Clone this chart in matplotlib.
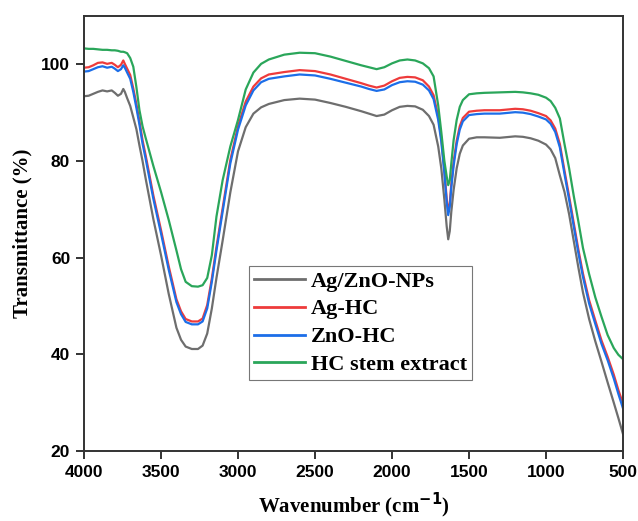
import matplotlib
matplotlib.use("Agg")
import matplotlib.pyplot as plt

# wavenumber grid (cm-1) shared by all four spectra
wavenumber = [4000, 3970, 3940, 3910, 3880, 3850, 3820, 3800, 3780, 3760, 3745, 3735, 3720,
              3700, 3680, 3660, 3640, 3620, 3600, 3550, 3500, 3450, 3400, 3370, 3340, 3300,
              3260, 3230, 3200, 3170, 3140, 3100, 3050, 3000, 2950, 2900, 2850, 2800, 2700,
              2600, 2500, 2400, 2300, 2200, 2150, 2100, 2050, 2000, 1950, 1900, 1850, 1800,
              1760, 1730, 1700, 1680, 1660, 1645, 1635, 1625, 1615, 1600, 1580, 1560, 1540,
              1500, 1450, 1400, 1300, 1200, 1150, 1100, 1050, 1000, 970, 940, 910, 880, 850,
              820, 790, 760, 720, 680, 640, 600, 560, 530, 500]

# transmittance (%)
ag_zno_nps = [93.4, 93.5, 93.9, 94.3, 94.6, 94.4, 94.6, 94.1, 93.5, 93.9, 94.9, 94.3, 93.0,
              91.4, 89.0, 86.6, 83.2, 80.0, 76.4, 68.0, 60.5, 52.5, 45.5, 43.0, 41.6, 41.1,
              41.1, 41.8, 44.3, 49.5, 55.8, 63.5, 73.5, 82.0, 87.0, 89.8, 91.1, 91.8, 92.6,
              92.9, 92.7, 92.0, 91.2, 90.3, 89.8, 89.3, 89.6, 90.5, 91.2, 91.4, 91.3, 90.6,
              89.3, 87.5, 83.0, 78.5, 72.0, 66.5, 63.8, 65.5, 69.5, 74.0, 78.5, 81.5, 83.2,
              84.6, 84.9, 84.9, 84.8, 85.1, 85.0, 84.7, 84.2, 83.4, 82.4, 80.6, 77.0, 73.6, 69.0,
              63.5, 58.0, 52.8, 47.3, 42.7, 38.5, 34.2, 30.0, 26.8, 23.5]

ag_hc = [99.3, 99.4, 99.8, 100.3, 100.4, 100.1, 100.3, 99.9, 99.4, 99.9, 100.8, 100.1, 99.1,
         97.8, 95.0, 91.8, 88.2, 84.3, 81.2, 72.9, 65.7, 58.2, 51.4, 48.9, 47.3, 46.8,
         46.8, 47.4, 50.2, 55.7, 62.2, 70.2, 80.2, 87.2, 92.3, 95.4, 97.1, 97.9, 98.4,
         98.8, 98.6, 97.9, 97.0, 96.1, 95.6, 95.2, 95.6, 96.5, 97.2, 97.4, 97.3, 96.7,
         95.4, 93.6, 89.2, 84.7, 78.2, 72.2, 69.6, 71.2, 75.2, 79.8, 84.2, 87.2, 88.9,
         90.2, 90.4, 90.5, 90.5, 90.8, 90.7, 90.4, 89.9, 89.3, 88.4, 86.7, 83.5, 78.0, 72.7,
         67.2, 61.7, 56.7, 51.2, 47.0, 42.9, 39.5, 35.8, 32.6, 29.8]

zno_hc = [98.5, 98.6, 99.0, 99.4, 99.6, 99.3, 99.5, 99.1, 98.6, 99.0, 99.8, 99.3, 98.3,
          97.0, 94.3, 91.0, 87.5, 83.6, 80.5, 72.2, 65.0, 57.5, 50.8, 48.3, 46.7, 46.2,
          46.2, 46.8, 49.5, 55.0, 61.5, 69.5, 79.5, 86.5, 91.5, 94.6, 96.3, 97.0, 97.5,
          97.9, 97.7, 97.0, 96.2, 95.4, 94.9, 94.5, 94.8, 95.7, 96.3, 96.5, 96.4, 95.8,
          94.6, 92.8, 88.5, 84.0, 77.5, 71.5, 68.8, 70.5, 74.5, 79.0, 83.5, 86.5, 88.2,
          89.5, 89.7, 89.8, 89.8, 90.1, 90.0, 89.7, 89.2, 88.6, 87.7, 86.0, 82.8, 77.3, 72.0,
          66.5, 61.0, 56.0, 50.5, 46.3, 42.2, 38.8, 35.0, 31.8, 28.8]

hc_stem = [103.3, 103.2, 103.2, 103.1, 103.0, 103.0, 102.9, 102.9, 102.8, 102.6, 102.6, 102.5, 102.3,
           101.3, 99.5, 95.3, 90.5, 87.2, 84.8, 79.0, 73.6, 67.8, 61.5, 57.6, 55.0, 54.1,
           54.0, 54.3, 55.8, 60.5, 68.5, 76.0, 83.0, 88.5, 94.8, 98.3, 100.1, 101.0, 102.0,
           102.4, 102.3, 101.6, 100.7, 99.8, 99.4, 99.0, 99.4, 100.2, 100.8, 101.0, 100.8, 100.2,
           99.2, 97.5, 91.5, 86.0, 80.0, 76.8, 75.0, 76.0, 79.5, 84.3, 88.5, 91.2, 92.6,
           93.8, 94.0, 94.1, 94.2, 94.3, 94.2, 94.0, 93.7, 93.1, 92.4, 91.0, 88.8, 83.5, 78.5,
           72.8, 67.5, 62.0, 56.6, 51.8, 47.8, 44.0, 41.3, 39.9, 39.0]

labels = ['Ag/ZnO-NPs', 'Ag-HC', 'ZnO-HC', 'HC stem extract']
colors = ['#6e6e6e', '#ee3b3b', '#1c6ee8', '#2aa65a']
x_ticks = [4000, 3500, 3000, 2500, 2000, 1500, 1000, 500]
y_ticks = [20, 40, 60, 80, 100]

fig = plt.figure(figsize=(6.38, 5.21), dpi=100)
ax = fig.add_axes([0.1317, 0.1344, 0.8448, 0.8349])

for series, label, color in zip([ag_zno_nps, ag_hc, zno_hc, hc_stem], labels, colors):
    ax.plot(wavenumber, series, color=color, lw=1.6, label=label)

ax.set_xlim(4000, 500)
ax.set_ylim(20, 110)
ax.set_xticks(x_ticks)
ax.set_yticks(y_ticks)
ax.tick_params(direction='out', length=6, width=1.4, color='#333333', pad=4)
for lbl in ax.get_xticklabels() + ax.get_yticklabels():
    lbl.set_fontfamily('Liberation Sans')
    lbl.set_fontweight('bold')
    lbl.set_fontsize(12.5)
for sp in ax.spines.values():
    sp.set_linewidth(1.4)
    sp.set_color('#333333')

ax.set_xlabel('Wavenumber (cm$^{\\mathbf{-1}}$)', fontfamily='Liberation Serif',
              fontweight='bold', fontsize=15, labelpad=8)
ax.set_ylabel('Transmittance (%)', fontfamily='Liberation Serif',
              fontweight='bold', fontsize=15, labelpad=6)

leg = ax.legend(loc='upper left', bbox_to_anchor=(0.306, 0.425), borderaxespad=0,
                fancybox=False, edgecolor='#777777', framealpha=1, handlelength=2.3,
                borderpad=0.22, labelspacing=0.33, handletextpad=0.25,
                prop={'family': 'Liberation Serif', 'weight': 'bold', 'size': 16})
leg.get_frame().set_linewidth(0.8)
for line in leg.get_lines():
    line.set_linewidth(2.0)

fig.savefig('out.png', dpi=100)
